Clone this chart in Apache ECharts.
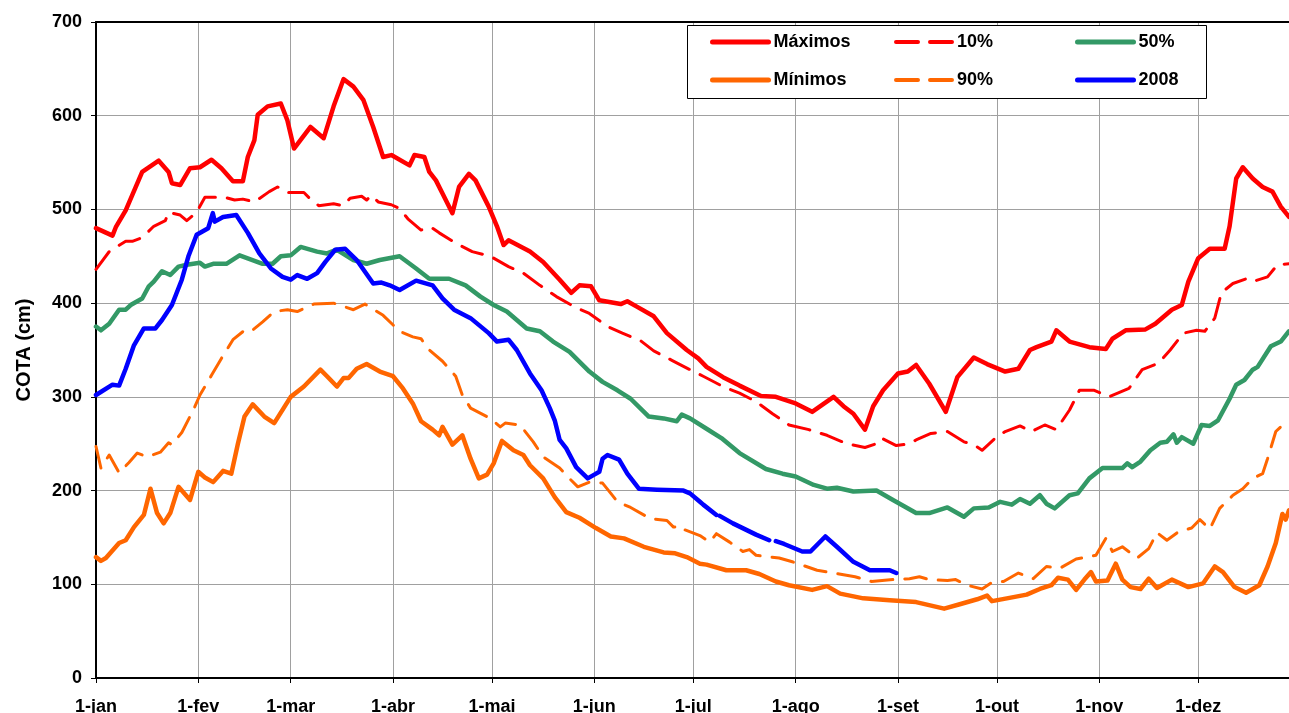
<!DOCTYPE html>
<html>
<head>
<meta charset="utf-8">
<title>COTA</title>
<script src="https://cdn.jsdelivr.net/npm/echarts@6/dist/echarts.min.js"></script>
<style>
  html, body { margin: 0; padding: 0; background: #fff; }
  #chart { width: 1289px; height: 713px; }
</style>
</head>
<body>
<div id="chart"></div>
<script>
// dias do ano (0 = 1-jan) onde comecam os meses
var monthDays = [0, 31, 59, 90, 120, 151, 181, 212, 243, 273, 304, 334];
var monthLabels = ['1-jan', '1-fev', '1-mar', '1-abr', '1-mai', '1-jun',
  '1-jul', '1-ago', '1-set', '1-out', '1-nov', '1-dez'];
var yTicks = [0, 100, 200, 300, 400, 500, 600, 700];

// [dia, cota em cm]
var maximos = [[0,480],[5,472],[6,481],[9,499],[14,540],[19,552],[22,540],[23,528],[25.5,526],[28.5,544],[31.5,545],[35,553],[38,544],[41.5,530],[44.5,530],[46,556],[48,574],[49,601],[52,610],[56,613],[58,595],[60,565],[65,588],[69,576],[72,610],[75,639],[78,631],[81,617],[84,588],[87,556],[89.5,558],[95,547],[96.5,558],[99.5,556],[101,540],[103,531],[105,517],[108,496],[110,524],[113,538],[115,531],[119,503],[121.5,482],[123.5,462],[125,467],[131.5,455],[135.5,444],[140.5,425],[144,411],[146.5,419],[150,418],[152.5,403],[159,399],[161,402],[164,396],[169,386],[173,368],[179,350],[182.5,341],[185,332],[190,321],[195,312],[201.5,301],[206,300],[212,293],[217,284],[223.5,300],[226.5,290],[229.5,282],[233,265],[235.5,290],[238.5,307],[243,325],[246,327],[248.5,334],[252.5,314],[257.5,284],[261,321],[266,342],[270,335],[275.5,327],[279.5,330],[283,350],[285,353],[289.5,359],[291,371],[295,359],[301,353],[306,351],[308,362],[312,371],[318,372],[321,378],[326,393],[329,398],[331,423],[334,448],[337.5,458],[342,458],[343.5,482],[345.5,533],[347.5,545],[350.5,533],[353.5,524],[356.5,519],[359,503],[361.5,492]];

var minimos = [[0,129],[1.5,125],[3,128],[7,144],[9,147],[11.5,161],[14.5,174],[16.5,202],[18.5,176],[20.5,165],[22.5,176],[25,204],[28.5,190],[31,220],[33,214],[35.5,209],[38.5,221],[41,218],[43,250],[45,279],[47.5,292],[51,279],[54,272],[59,300],[63,311],[68,329],[70,322],[73,311],[75,320],[76.5,320],[79,330],[82,335],[86,327],[90,322],[93,309],[96,293],[98.5,274],[102,265],[104,259],[105,268],[108,249],[111,259],[113.5,234],[116,213],[118.5,217],[120.5,229],[123,253],[126.5,243],[129.5,238],[131.5,227],[135.5,213],[139,193],[142.5,177],[146.5,171],[151.5,160],[156,151],[160,149],[166,140],[172,134],[175.5,133],[179,129],[183,122],[185,121],[191,115],[197,115],[201,111],[206,103],[210,99],[217,94],[221.5,98],[225.5,90],[232.5,85],[240.5,83],[248.5,81],[257,74],[262,79],[267,84],[270,88],[271.5,82],[276,85],[282,89],[286,95],[289.5,99],[291.5,107],[294.5,105],[297,94],[299.5,105],[301.5,113],[303,103],[306.5,104],[309,122],[311,105],[313.5,97],[316.5,95],[319,106],[321.5,96],[326,105],[331,97],[335.5,101],[339,119],[341.5,113],[345,97],[348.5,91],[352.5,99],[355,119],[357.5,144],[359.5,175],[360.5,169],[361.5,179]];

var p10 = [[0,436],[4,455],[9,466],[11,466],[14,470],[17.5,482],[21,488],[22,497],[25.5,494],[27.5,488],[30.5,497],[33,513],[39,513],[42,510],[44.5,511],[48,508],[52.5,519],[55,524],[58,518],[63,518],[65,511],[67.5,504],[72,506],[75,504],[77,512],[80.5,514],[82,510],[83.5,515],[85.5,508],[89.5,505],[92,501],[94.5,490],[98.5,478],[101.5,481],[104,475],[109,464],[114,455],[119.5,450],[125,439],[129.5,432],[134.5,419],[139.5,407],[145,396],[149.5,389],[155,375],[159.5,368],[165,360],[169,349],[174.5,339],[180,329],[184,322],[190,311],[195,304],[200,295],[205,282],[210,270],[216,265],[221.5,259],[227.5,250],[233,246],[236.5,250],[238,256],[242.5,248],[246.5,250],[248.5,254],[253,261],[258,263],[263,252],[266,249],[268.5,243],[272.5,256],[275.5,263],[280,269],[283.5,263],[287.5,270],[291,265],[295,286],[298,307],[302.5,307],[307,300],[313,309],[317,329],[322,336],[325.5,350],[329.5,368],[333.5,371],[336,370],[339,384],[341,411],[344.5,421],[348.5,426],[350.5,423],[355,428],[358,441],[361.5,442]];

var p90 = [[0,247],[1.5,224],[4,238],[7,219],[10,230],[12.5,240],[15.5,236],[19.5,241],[22,251],[23,249],[26,262],[29.5,286],[31.5,302],[35,323],[38,341],[41.5,361],[45,371],[47,370],[50.5,380],[54,391],[58,393],[61,391],[66,399],[72,400],[78,393],[81.5,399],[87,387],[92,370],[96,364],[98.5,362],[101,350],[105,338],[109,322],[111,302],[113.5,288],[119.5,277],[122.5,268],[124,272],[128.5,270],[132.5,252],[135.5,236],[140.5,224],[144,211],[146,204],[149.5,209],[153.5,208],[156,197],[158,188],[162,182],[168,170],[173,168],[175,161],[177.5,162],[178.5,158],[183,152],[186,145],[188,154],[192,145],[196,135],[198,137],[200,131],[207,128],[211,124],[218.5,115],[223.5,112],[230,108],[235,103],[241.5,105],[246.5,106],[249.5,108],[252.5,105],[258,104],[260.5,105],[264,99],[268.5,95],[271.5,102],[275,103],[279.5,112],[284,106],[288,119],[292,117],[297,127],[303,131],[306,149],[308,135],[311,140],[315.5,128],[319,138],[321.5,155],[324.5,147],[328,156],[332,160],[334.5,169],[337.5,159],[340.5,181],[344.5,195],[347.5,202],[350.5,213],[353.5,218],[355,234],[357.5,263],[359,268],[361.5,268]];

var p50 = [[0,375],[1.5,371],[4,378],[7,393],[9,393],[10.5,398],[14,405],[16,418],[17.5,423],[20,434],[22.5,430],[25,439],[27.5,441],[31.5,443],[33,439],[35.5,442],[39.5,442],[43.5,451],[50.5,442],[53.5,442],[56,450],[59,451],[62,460],[67,455],[70,453],[73,457],[78,446],[82,442],[86,446],[92,450],[97,437],[101,426],[107,426],[112,419],[116.5,407],[120.5,398],[124.5,391],[130.5,373],[134.5,370],[138.5,359],[143.5,348],[149.5,327],[153.5,316],[158,307],[162,298],[167.5,279],[172,277],[176,274],[177.5,281],[180,277],[185,266],[189.5,256],[195,240],[203,223],[208,218],[212,215],[217.5,206],[221.5,202],[224.5,203],[229.5,199],[236.5,200],[241.5,190],[248.5,176],[252.5,176],[258,182],[263,172],[266,181],[270.5,182],[274,188],[277.5,185],[280,191],[283,186],[286,195],[288,186],[290.5,181],[295,195],[297.5,197],[301,213],[305,224],[308,224],[311,224],[312.5,229],[314,225],[316.5,231],[319.5,243],[322.5,251],[324.5,252],[326.5,260],[327.5,251],[329,257],[332.5,250],[335,270],[337.5,269],[340,275],[343.5,298],[345.5,313],[348,318],[350.5,329],[352,332],[356,354],[359,359],[361.5,370]];

// 2008 ('-' = falha nos dados)
var y2008 = [[0,302],[5,313],[7,312],[9,330],[11.5,355],[14.5,373],[18,373],[20,382],[23,398],[26,425],[28,450],[30.5,473],[34,480],[35.4,496],[36,487],[38.5,492],[42.5,494],[46,475],[49.5,453],[53,437],[56.5,428],[59,425],[61,430],[64,426],[67,432],[69.5,444],[72.5,457],[75.5,458],[79,446],[84,421],[86.5,422],[89,419],[92,414],[97,424],[102,419],[105,405],[108.5,393],[113.5,384],[119,368],[121.5,359],[125,361],[127.5,350],[131.5,325],[135,307],[137.5,288],[139,275],[140.5,254],[142.5,245],[145.5,225],[149,213],[151,217],[152.5,220],[153.5,234],[155,238],[158.5,233],[161,218],[164.5,202],[170,201],[178,200],[180,197],[183,188],[184,185],[188,174],[188.5,'-'],[189,173],[193,165],[200,153],[204,147],[205,'-'],[206,146],[208.5,143],[214,135],[216.5,135],[221,151],[224.5,140],[229.5,124],[234.5,115],[239,115],[240.5,115],[242.5,112]];

var FONT = '"Liberation Sans", Arial, sans-serif';
var xMax = 361.5;

function lineSeries(name, data, color, dashed) {
  return {
    name: name,
    type: 'line',
    data: data,
    symbol: 'none',
    smooth: false,
    connectNulls: false,
    lineStyle: {
      color: color,
      width: dashed ? 3 : 4.5,
      type: dashed ? [22, 12] : 'solid',
      cap: 'round',
      join: 'round'
    },
    itemStyle: { color: color }
  };
}

// coluna da legenda: primeiro item e segundo item
function legendCol(left, names, dashed) {
  return {
    orient: 'vertical',
    left: left,
    top: 33,
    itemGap: 20,
    itemWidth: 56,
    itemHeight: 14,
    padding: 0,
    data: names.map(function (n) {
      return { name: n, lineStyle: { width: dashed ? 4 : 5 } };
    }),
    selectedMode: false,
    itemStyle: { opacity: 0 },
    textStyle: { fontFamily: FONT, fontWeight: 'bold', fontSize: 18, color: '#000' }
  };
}

var chart = echarts.init(document.getElementById('chart'), null, { renderer: 'canvas' });

var option = {
  animation: false,
  backgroundColor: '#fff',
  grid: { left: 96, right: 0, top: 22, bottom: 35, containLabel: false, outerBoundsMode: 'none' },
  legend: [
    legendCol(710, ['Máximos', 'Mínimos'], false),
    legendCol(894, ['10%', '90%'], true),
    legendCol(1075, ['50%', '2008'], false)
  ],
  graphic: [{
    type: 'rect',
    left: 687,
    top: 25,
    z: 3,
    shape: { width: 519, height: 73 },
    style: { fill: '#fff', stroke: '#000', lineWidth: 1 }
  }],
  xAxis: [{
    type: 'value',
    min: 0,
    max: xMax,
    axisLine: { lineStyle: { color: '#000', width: 2 } },
    axisTick: { show: true, customValues: monthDays, length: 5, lineStyle: { color: '#000', width: 1 } },
    axisLabel: {
      customValues: monthDays,
      margin: 20,
      fontFamily: FONT, fontWeight: 'bold', fontSize: 18, color: '#000',
      formatter: function (v) {
        var i = monthDays.indexOf(v);
        return i >= 0 ? monthLabels[i] : '';
      }
    },
    splitLine: { show: true, lineStyle: { color: '#a0a0a0', width: 1 } }
  }, {
    type: 'value',
    position: 'top',
    min: 0,
    max: xMax,
    axisLine: { show: true, onZero: false, lineStyle: { color: '#000', width: 2 } },
    axisTick: { show: false },
    axisLabel: { show: false },
    splitLine: { show: false }
  }],
  yAxis: {
    type: 'value',
    min: yTicks[0],
    max: yTicks[yTicks.length - 1],
    interval: 100,
    name: 'COTA (cm)',
    nameLocation: 'middle',
    nameGap: 62,
    nameTextStyle: { fontFamily: FONT, fontWeight: 'bold', fontSize: 20, color: '#000' },
    axisLine: { show: true, lineStyle: { color: '#000', width: 2 } },
    axisTick: { show: true, length: 5, lineStyle: { color: '#000' } },
    axisLabel: { margin: 14, fontFamily: FONT, fontWeight: 'bold', fontSize: 18, color: '#000' },
    splitLine: { show: true, lineStyle: { color: '#a0a0a0', width: 1 } }
  },
  series: [
    lineSeries('Máximos', maximos, '#ff0000', false),
    lineSeries('Mínimos', minimos, '#ff6600', false),
    lineSeries('10%', p10, '#ff0000', true),
    lineSeries('90%', p90, '#ff6600', true),
    lineSeries('50%', p50, '#339966', false),
    lineSeries('2008', y2008, '#0000ff', false)
  ]
};

chart.setOption(option);
</script>
</body>
</html>
